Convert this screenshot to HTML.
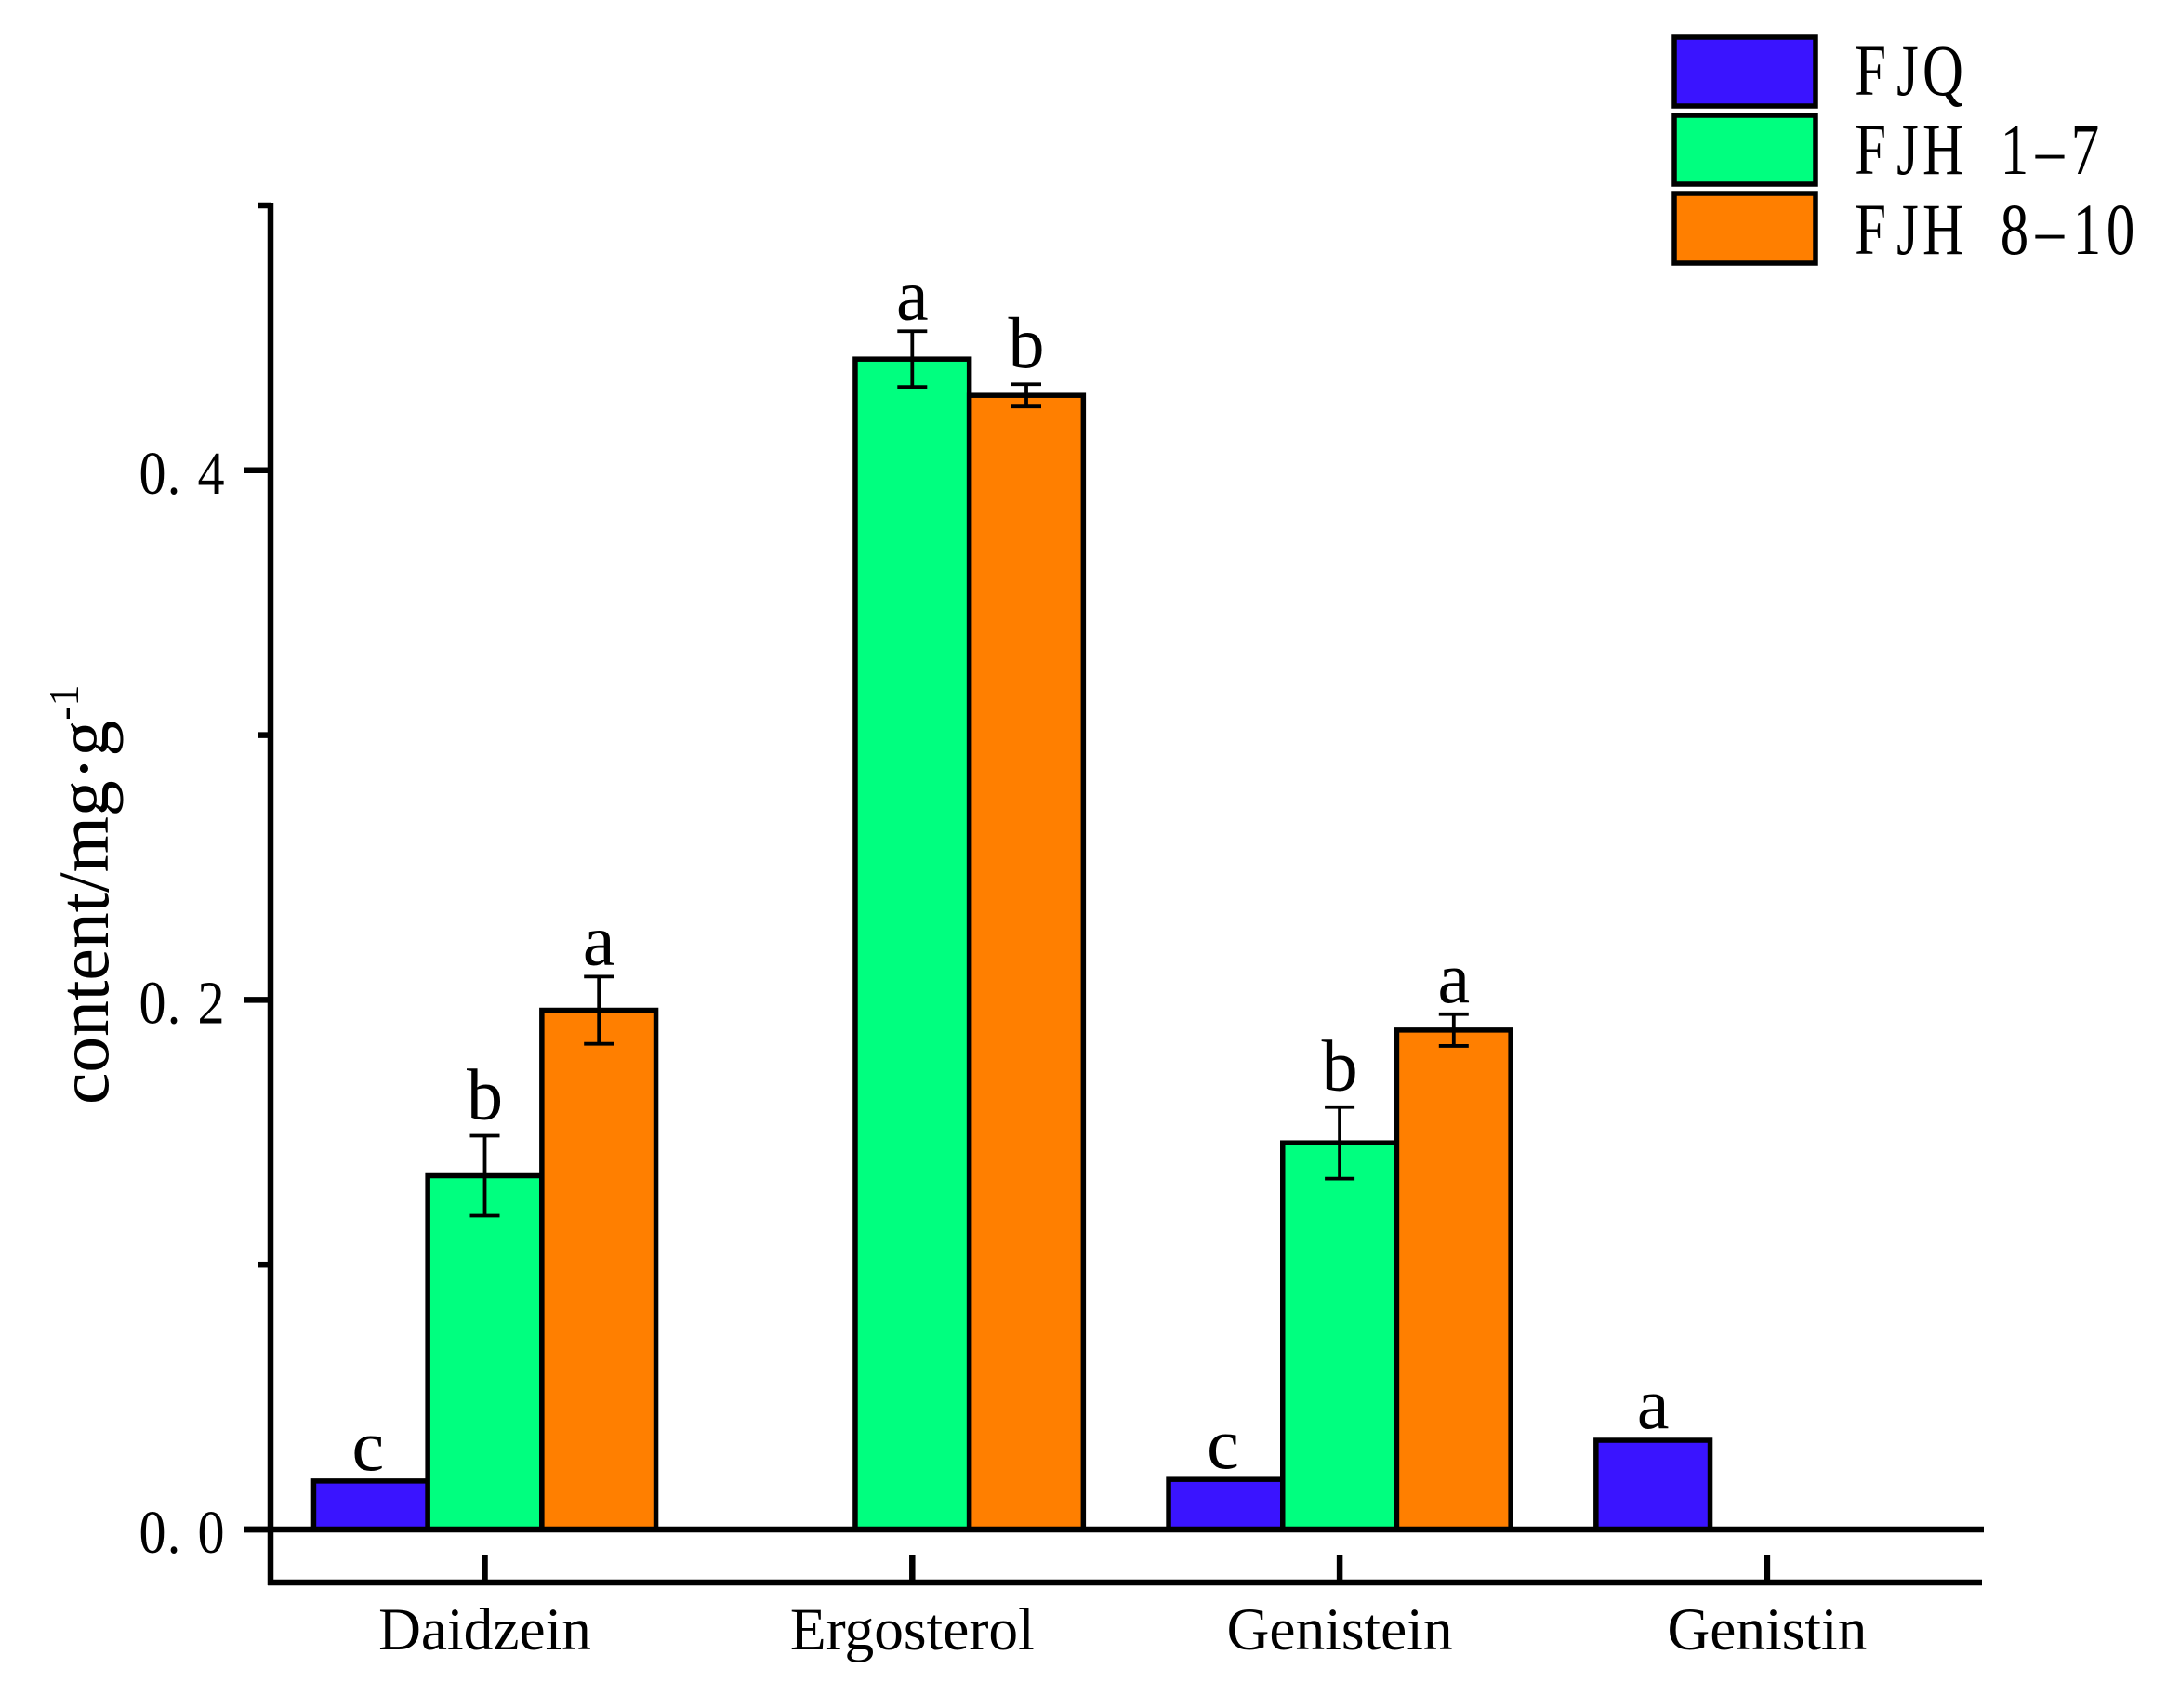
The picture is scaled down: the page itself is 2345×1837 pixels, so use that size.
<!DOCTYPE html>
<html>
<head>
<meta charset="utf-8">
<title>Content bar chart</title>
<style>
html,body{margin:0;padding:0;background:#fff;}
svg{display:block;}
text{font-family:"Liberation Serif","Noto Serif CJK SC",serif;fill:#000;}
</style>
</head>
<body>
<svg id="chart" xmlns="http://www.w3.org/2000/svg" width="2345" height="1837" viewBox="0 0 2345 1837">
  <rect x="0" y="0" width="2345" height="1837" fill="#ffffff"/>
  <g id="bars"></g>
  <g id="errors"></g>
  <g id="letters"></g>
  <g id="axes"></g>

  <text transform="translate(116,1188) rotate(-90)" font-size="77.5">content/mg·g<tspan font-size="46" dy="-32">-1</tspan></text>

  <g>
    <rect x="1801" y="40" width="152" height="74" fill="#3A14FF" stroke="#000" stroke-width="5.5"/>
    <rect x="1801" y="124" width="152" height="74" fill="#00FF7F" stroke="#000" stroke-width="5.5"/>
    <rect x="1801" y="208" width="152" height="75" fill="#FF7F00" stroke="#000" stroke-width="5.5"/>
    <g transform="translate(0,102) scale(.78,1)" font-size="78" text-anchor="middle">
      <text x="2579.5 2630.8 2679.5">FJQ</text>
    </g>
    <g transform="translate(0,187) scale(.78,1)" font-size="78" text-anchor="middle">
      <text x="2579.5 2630.8 2679.5 2729.5 2778.2 2826.9 2875.6">FJH 1–7</text>
    </g>
    <g transform="translate(0,273) scale(.78,1)" font-size="78" text-anchor="middle">
      <text x="2579.5 2630.8 2679.5 2729.5 2778.2 2826.9 2878.2 2924.4">FJH 8–10</text>
    </g>
  </g>
</svg>
<script>
const categories = ["Daidzein", "Ergosterol", "Genistein", "Genistin"];
const seriesNames = ["FJQ", "FJH 1-7", "FJH 8-10"];
const seriesColors = ["#3A14FF", "#00FF7F", "#FF7F00"];
const fjqValues = [0.0183, null, 0.0189, 0.0337];
const fjh17Values = [0.1336, 0.4420, 0.1460, null];
const fjh810Values = [0.1961, 0.4283, 0.1886, null];
const fjqErrors = [0, null, 0, 0];
const fjh17Errors = [0.0151, 0.0105, 0.0135, null];
const fjh810Errors = [0.0127, 0.0042, 0.0060, null];
const fjqLetters = ["c", null, "c", "a"];
const fjh17Letters = ["b", "a", "b", null];
const fjh810Letters = ["a", "b", "a", null];
const majorTickValues = [0, 0.2, 0.4];
const majorTickLabels = ["0.0", "0.2", "0.4"];
const minorTickValues = [0.1, 0.3, 0.5];

const NS = "http://www.w3.org/2000/svg";
const yScale = v => 1645 - v * 2848;
const catX = i => 521.5 + 459.8 * i;
const barW = 122.7;
const barX = (i, s) => catX(i) + (s - 1) * barW;
const letterGap = {a: 13, b: 18, c: 12};
const letterShift = {a: 0, b: 0, c: -3};

function mk(parent, tag, attrs, txt) {
  const el = document.createElementNS(NS, tag);
  for (const k in attrs) el.setAttribute(k, attrs[k]);
  if (txt !== undefined) el.textContent = txt;
  parent.appendChild(el);
  return el;
}
const barsG = document.getElementById("bars");
const errG = document.getElementById("errors");
const letG = document.getElementById("letters");
const axG = document.getElementById("axes");
const allValues = [fjqValues, fjh17Values, fjh810Values];
const allErrors = [fjqErrors, fjh17Errors, fjh810Errors];
const allLetters = [fjqLetters, fjh17Letters, fjh810Letters];

allValues.forEach((vals, s) => {
  vals.forEach((v, i) => {
    if (v === null) return;
    const top = yScale(v);
    const bar = mk(barsG, "rect", {x: barX(i, s) - barW / 2, y: top, width: barW, height: yScale(0) - top, fill: seriesColors[s], stroke: "#000", "stroke-width": 5.5});
    
    
    const e = allErrors[s][i];
    const cx = barX(i, s);
    if (e > 0) {
      const eb = mk(errG, "path", {d: `M${cx - 16} ${yScale(v + e)}H${cx + 16}M${cx} ${yScale(v + e)}V${yScale(v - e)}M${cx - 16} ${yScale(v - e)}H${cx + 16}`, fill: "none", stroke: "#000", "stroke-width": 3.8});
      
      
    }
    const letter = allLetters[s][i];
    if (letter) {
      const t = mk(letG, "text", {x: cx + letterShift[letter], y: yScale(v + e) - letterGap[letter], "font-size": 78, "text-anchor": "middle"}, letter);
      
      
    }
  });
});

// zero baseline
const zeroLine = mk(axG, "line", {x1: 262, x2: 2134, y1: yScale(0), y2: yScale(0), stroke: "#000", "stroke-width": 6.5});



// y axis
const yAxisLine = mk(axG, "line", {x1: 291, x2: 291, y1: yScale(0.5) - 3, y2: 1705, stroke: "#000", "stroke-width": 6.5});



majorTickValues.forEach((v, i) => {
  const y = yScale(v);
  const tick = mk(axG, "line", {x1: 262, x2: 291, y1: y, y2: y, stroke: "#000", "stroke-width": 6.5});
  
  
  const g = mk(axG, "g", {transform: `translate(0,${y + 25}) scale(.88,1)`});
  const lab = mk(g, "text", {x: `${164 / .88} ${187 / .88} ${227 / .88}`, y: 0, "font-size": 66, "text-anchor": "middle"}, majorTickLabels[i]);
  
  
});
minorTickValues.forEach(v => {
  const y = yScale(v);
  const tick = mk(axG, "line", {x1: 277, x2: 291, y1: y, y2: y, stroke: "#000", "stroke-width": 6.5});
  
  
});

// x axis
const xAxisLine = mk(axG, "line", {x1: 288, x2: 2132, y1: 1702, y2: 1702, stroke: "#000", "stroke-width": 6.5});



categories.forEach((c, i) => {
  const x = catX(i);
  const tick = mk(axG, "line", {x1: x, x2: x, y1: 1672, y2: 1702, stroke: "#000", "stroke-width": 6.5});
  
  
  const g = mk(axG, "g", {transform: `translate(${x},1774) scale(.975,1)`});
  const lab = mk(g, "text", {x: 0, y: 0, "font-size": 65, "text-anchor": "middle"}, c);
  
  
});
</script>
</body>
</html>
